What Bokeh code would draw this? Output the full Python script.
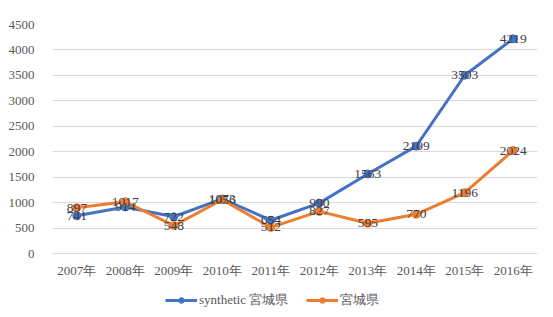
from bokeh.plotting import figure
from bokeh.layouts import column
from bokeh.models import (ColumnDataSource, Range1d, SingleIntervalTicker, Legend, LegendItem, LabelSet, FactorRange)
from bokeh.embed import file_html
from bokeh.resources import INLINE

years = ["2007年", "2008年", "2009年", "2010年", "2011年", "2012年", "2013年", "2014年", "2015年", "2016年"]
synthetic = [741, 914, 722, 1073, 654, 990, 1563, 2109, 3503, 4219]
miyagi = [897, 1017, 548, 1056, 512, 827, 595, 770, 1196, 2024]
series_names = ["synthetic 宮城県", "宮城県"]
colors = ["#4472C4", "#ED7D31"]

FONT = "Liberation Serif"

p = figure(x_range=FactorRange(*years), y_range=Range1d(0, 4500),
           frame_width=485, frame_height=229,
           min_border_left=52, min_border_right=16, min_border_top=24, min_border_bottom=32,
           output_backend="svg", toolbar_location=None)

p.outline_line_color = None
p.background_fill_color = "white"
p.border_fill_color = "white"
p.xgrid.grid_line_color = None
p.ygrid.grid_line_color = "#d9d9d9"
p.ygrid.grid_line_width = 1
p.yaxis.ticker = SingleIntervalTicker(interval=500)
p.yaxis.axis_line_color = None
p.yaxis.major_tick_line_color = None
p.yaxis.minor_tick_line_color = None
p.xaxis.axis_line_color = "#d9d9d9"
p.xaxis.major_tick_line_color = None
p.xaxis.minor_tick_line_color = None
p.xaxis.major_tick_out = 0
p.xaxis.major_tick_in = 0
p.xaxis.axis_label_standoff = 0
for ax in (p.xaxis, p.yaxis):
    ax.major_label_text_font = FONT
    ax.major_label_text_font_size = "13px"
    ax.major_label_text_color = "#595959"
p.xaxis.major_label_standoff = 9
p.yaxis.major_label_standoff = 12
p.x_range.range_padding = 0

for name, vals, col in zip(series_names, [synthetic, miyagi], colors):
    src = ColumnDataSource(dict(x=years, y=vals, t=[str(v) for v in vals]))
    p.line("x", "y", source=src, line_color=col, line_width=3)
    p.scatter("x", "y", source=src, size=8, fill_color=col, line_color=col)

for vals in [synthetic, miyagi]:
    src = ColumnDataSource(dict(x=years, y=vals, t=[str(v) for v in vals]))
    lbl = LabelSet(x="x", y="y", text="t", source=src, text_align="center", text_baseline="middle",
                   text_font=FONT, text_font_size="13.5px", text_color="#404040")
    p.add_layout(lbl)

# legend strip below the chart
q = figure(width=553, height=32, x_range=FactorRange(*years), y_range=Range1d(-10000, -9000),
           min_border=0, output_backend="svg", toolbar_location=None)
q.axis.visible = False
q.grid.visible = False
q.outline_line_color = None
q.border_fill_color = "white"
items = []
for name, vals, col in zip(series_names, [synthetic, miyagi], colors):
    src = ColumnDataSource(dict(x=years, y=vals))
    r1 = q.line("x", "y", source=src, line_color=col, line_width=3)
    r2 = q.scatter("x", "y", source=src, size=8, fill_color=col, line_color=col)
    items.append(LegendItem(label=name, renderers=[r1, r2]))

legend = Legend(items=items, orientation="horizontal", location=(113, 8),
                label_text_font=FONT, label_text_font_size="13px", label_text_color="#595959",
                border_line_color=None, background_fill_alpha=0, glyph_width=32, glyph_height=14,
                spacing=18, padding=0, margin=0, label_standoff=2)
q.add_layout(legend, "center")

open("out.html", "w").write(file_html(column(p, q, spacing=0), INLINE))
